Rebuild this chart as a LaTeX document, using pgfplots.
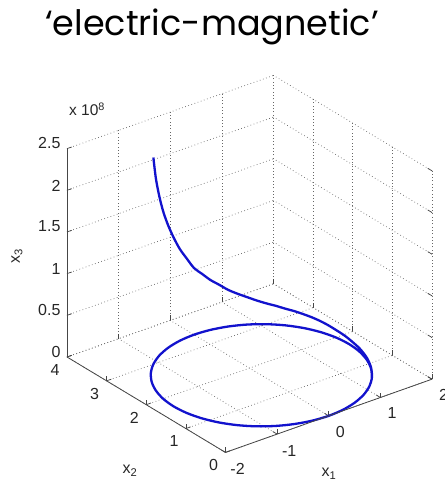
\documentclass[border=0pt]{standalone}
\usepackage{fontspec}
\setmainfont{Liberation Sans}
\newfontfamily\titlefont{Poppins}
\usepackage{pgfplots}
\usepackage{pgfplotstable}
\pgfplotsset{compat=1.18}

\definecolor{trajblue}{RGB}{18,18,205}
\definecolor{axisgray}{RGB}{70,70,70}

% trajectory: one closed loop at x3 = 0, then the rising branch
\pgfplotstableread{
x1      x2      x3
1.302   0.607   0
1.472   0.850   0
1.597   1.119   0
1.674   1.405   0
1.700   1.700   0
1.674   1.995   0
1.597   2.281   0
1.472   2.550   0
1.302   2.793   0
1.093   3.002   0
0.850   3.172   0
0.581   3.297   0
0.295   3.374   0
0.000   3.400   0
-0.295  3.374   0
-0.581  3.297   0
-0.850  3.172   0
-1.093  3.002   0
-1.302  2.793   0
-1.472  2.550   0
-1.597  2.281   0
-1.674  1.995   0
-1.700  1.700   0
-1.674  1.405   0
-1.597  1.119   0
-1.472  0.850   0
-1.302  0.607   0
-1.093  0.398   0
-0.850  0.228   0
-0.581  0.103   0
-0.295  0.026   0
0.000   0.000   0
0.295   0.026   0
0.581   0.103   0
0.850   0.228   0
1.093   0.398   0
1.302   0.607   0
1.472   0.850   1.2e6
1.597   1.119   2.5e6
1.674   1.405   4.0e6
1.700   1.700   6.0e6
1.694   1.848   7.5e6
1.674   1.995   9.0e6
1.642   2.140   1.10e7
1.597   2.281   1.30e7
1.541   2.418   1.48e7
1.472   2.550   1.65e7
1.393   2.675   1.83e7
1.302   2.793   2.00e7
1.202   2.902   2.25e7
1.093   3.002   2.50e7
0.975   3.093   2.85e7
0.850   3.172   3.30e7
0.718   3.241   3.80e7
0.581   3.297   4.40e7
0.440   3.342   5.20e7
0.295   3.374   6.00e7
0.148   3.394   7.00e7
0.000   3.400   8.00e7
-0.148  3.394   9.50e7
-0.295  3.374   1.10e8
-0.440  3.342   1.28e8
-0.581  3.297   1.47e8
-0.718  3.241   1.68e8
-0.850  3.172   1.92e8
-0.975  3.093   2.18e8
-1.093  3.002   2.48e8
}\trajectory

\begin{document}
\begin{tikzpicture}
\begin{axis}[
  view={-37.5}{30},
  scale only axis,
  width=365pt, height=377pt,
  xmin=-2, xmax=2, ymin=0, ymax=4, zmin=0, zmax=2.5e8,
  xtick={-2,-1,0,1,2}, xticklabels={-2,-1,0,1,2},
  ytick={0,1,2,3,4}, yticklabels={0,1,2,3,4},
  ztick={0,0.5e8,1e8,1.5e8,2e8,2.5e8},
  zticklabels={0,0.5,1,1.5,2,2.5},
  scaled z ticks=false,
  xtick pos=left, ytick pos=left, ztick pos=left,
  grid=major,
  major grid style={black!60, line width=0.7pt, dash pattern=on 0.7pt off 2.6pt},
  axis line style={draw=none},
  tick style={axisgray, line width=0.7pt},
  major tick length=5pt,
  tick align=inside,
  tick label style={font=\fontsize{16}{16}\selectfont, text=black!85},
  xticklabel style={xshift=6pt, yshift=-6pt},
  yticklabel style={xshift=-5pt, yshift=-3pt},
  zticklabel style={xshift=-3pt, yshift=4pt},
  clip=false,
]
\addplot3[trajblue, line width=2.3pt, smooth, no markers] table[x=x1, y=x2, z=x3] {\trajectory};
% visible axis lines
\draw[axisgray, line width=0.8pt] (axis cs:-2,0,0) -- (axis cs:2,0,0);
\draw[axisgray, line width=0.8pt] (axis cs:-2,0,0) -- (axis cs:-2,4,0);
\draw[axisgray, line width=0.8pt] (axis cs:-2,4,0) -- (axis cs:-2,4,2.5e8);
\coordinate (B0) at (axis cs:-2,4,0);
\end{axis}

\node[font=\fontsize{16}{16}\selectfont, text=black!85] at ([shift={(262pt,-117pt)}]B0) {x\textsubscript{1}};
\node[font=\fontsize{16}{16}\selectfont, text=black!85] at ([shift={(63pt,-114pt)}]B0) {x\textsubscript{2}};
\node[font=\fontsize{16}{16}\selectfont, text=black!85, rotate=90] at ([shift={(-50pt,101pt)}]B0) {x\textsubscript{3}};
\node[font=\fontsize{15.5}{15.5}\selectfont, text=black!85, anchor=base west, inner sep=0pt] at ([shift={(2pt,241pt)}]B0) {x 10\textsuperscript{8}};
\node[font=\titlefont\fontsize{35}{35}\selectfont, anchor=base, inner sep=0pt] at ([shift={(145pt,321pt)}]B0) {‘electric-magnetic’};

\pgfresetboundingbox
\path[use as bounding box] ([shift={(-67pt,-127pt)}]B0) rectangle ([shift={(377pt,357pt)}]B0);
\end{tikzpicture}
\end{document}
